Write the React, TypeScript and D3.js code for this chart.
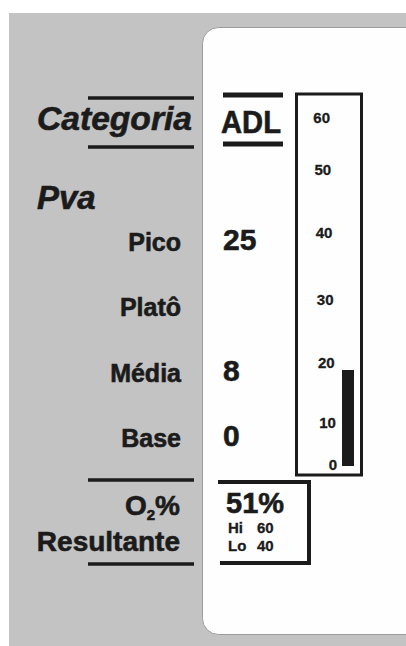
import React from "react";
import * as d3 from "d3";

// ---- data ----
const categoryLabel = "Categoria";
const categoryValue = "ADL";
const groupLabel = "Pva";
const pvaLabels = ["Pico", "Platô", "Média", "Base"];
const pvaValues: (number | null)[] = [25, null, 8, 0];
const gaugeTicks = [0, 10, 20, 30, 40, 50, 60];
const gaugeValue = 19;
const o2Value = 51;
const o2Hi = 60;
const o2Lo = 40;

const W = 406;
const H = 646;
const FONT = "'Liberation Sans', Arial, Helvetica, sans-serif";
const INK = "#1b1b1b";

const heavy = { stroke: INK, strokeWidth: 0.6 };

export default function App() {
  // gauge scale (non-uniform spacing as in the instrument)
  const gy = d3
    .scaleLinear()
    .domain(gaugeTicks)
    .range([466, 424, 364, 301, 234, 171, 119]);
  const gx = d3.scaleLinear().domain([0, 60]).range([337, 330]);

  const rowY = d3.scalePoint<string>().domain(pvaLabels).range([251, 447]);

  return (
    <svg
      width={W}
      height={H}
      style={{ position: "absolute", left: 0, top: 0, display: "block" }}
      fontFamily={FONT}
    >
      <rect x={0} y={0} width={W} height={H} fill="#ffffff" />
      <rect x={9} y={13} width={W - 9} height={H - 13} fill="#c3c3c3" />
      <rect
        x={202.5}
        y={27.5}
        width={240}
        height={607}
        rx={16}
        ry={16}
        fill="#fefefe"
        stroke="#9c9c9c"
        strokeWidth={1}
      />

      {/* Categoria */}
      <line x1={88} x2={194} y1={98} y2={98} stroke={INK} strokeWidth={3.5} />
      <line x1={88} x2={194} y1={147} y2={147} stroke={INK} strokeWidth={3.5} />
      <text
        x={192}
        y={130}
        textAnchor="end"
        fontSize={33}
        fontWeight="bold"
        fontStyle="italic"
        fill={INK}
        textLength={155}
        lengthAdjust="spacingAndGlyphs"
        {...heavy}
      >
        {categoryLabel}
      </text>

      {/* ADL */}
      <line x1={223} x2={283} y1={95} y2={95} stroke={INK} strokeWidth={5} />
      <line x1={223} x2={283} y1={144} y2={144} stroke={INK} strokeWidth={5} />
      <text
        x={221}
        y={133}
        fontSize={31}
        fontWeight="bold"
        fill={INK}
        textLength={60}
        lengthAdjust="spacingAndGlyphs"
        {...heavy}
      >
        {categoryValue}
      </text>

      {/* Pva */}
      <text
        x={37}
        y={209}
        fontSize={33}
        fontWeight="bold"
        fontStyle="italic"
        fill={INK}
        {...heavy}
      >
        {groupLabel}
      </text>

      {pvaLabels.map((lab, i) => (
        <g key={lab}>
          <text
            x={181}
            y={rowY(lab)}
            textAnchor="end"
            fontSize={25}
            fontWeight="bold"
            fill={INK}
            {...heavy}
          >
            {lab}
          </text>
          {pvaValues[i] !== null && (
            <text
              x={223}
              y={(rowY(lab) as number) - 1}
              fontSize={30}
              fontWeight="bold"
              fill={INK}
              {...heavy}
            >
              {pvaValues[i]}
            </text>
          )}
        </g>
      ))}

      {/* gauge */}
      <rect
        x={296.5}
        y={94}
        width={65}
        height={381}
        fill="none"
        stroke={INK}
        strokeWidth={3}
      />
      {gaugeTicks.map((t) => (
        <text
          key={t}
          x={gx(t)}
          y={gy(t) + 4}
          textAnchor="end"
          fontSize={15}
          fontWeight="bold"
          fill={INK}
          stroke={INK}
          strokeWidth={0.3}
        >
          {t}
        </text>
      ))}
      <rect
        x={342}
        y={gy(gaugeValue)}
        width={12}
        height={gy(0) - gy(gaugeValue)}
        fill={INK}
      />

      {/* O2% Resultante */}
      <line x1={88} x2={194} y1={480} y2={480} stroke={INK} strokeWidth={3.5} />
      <line x1={88} x2={194} y1={564} y2={564} stroke={INK} strokeWidth={3.5} />
      <text x={180} y={515} textAnchor="end" fontSize={28} fontWeight="bold" fill={INK} {...heavy}>
        <tspan>O</tspan>
        <tspan fontSize={15} dy={5}>
          2
        </tspan>
        <tspan dy={-5}>%</tspan>
      </text>
      <text x={180} y={551} textAnchor="end" fontSize={28} fontWeight="bold" fill={INK} {...heavy}>
        Resultante
      </text>

      <path
        d="M218,482 H309 V563 H220"
        fill="none"
        stroke={INK}
        strokeWidth={4}
        strokeLinejoin="miter"
      />
      <text x={226} y={513} fontSize={29} fontWeight="bold" fill={INK} {...heavy}>
        {`${o2Value}%`}
      </text>
      <text x={228} y={533} fontSize={15} fontWeight="bold" fill={INK} stroke={INK} strokeWidth={0.3}>
        Hi
      </text>
      <text x={257} y={533} fontSize={15} fontWeight="bold" fill={INK} stroke={INK} strokeWidth={0.3}>
        {o2Hi}
      </text>
      <text x={228} y={551} fontSize={15} fontWeight="bold" fill={INK} stroke={INK} strokeWidth={0.3}>
        Lo
      </text>
      <text x={257} y={551} fontSize={15} fontWeight="bold" fill={INK} stroke={INK} strokeWidth={0.3}>
        {o2Lo}
      </text>
    </svg>
  );
}
